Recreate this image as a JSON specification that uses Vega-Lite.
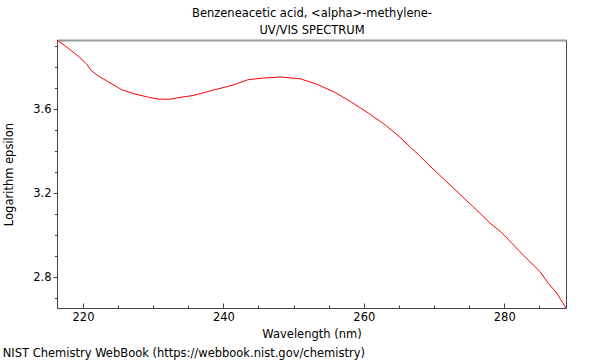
{
  "$schema": "https://vega.github.io/schema/vega-lite/v6.json",
  "width": 509,
  "height": 268,
  "autosize": {"type": "none"},
  "padding": {"left": 57, "top": 40, "right": 34, "bottom": 52},
  "background": "white",
  "title": {
    "text": "NIST Chemistry WebBook (https://webbook.nist.gov/chemistry)",
    "orient": "bottom",
    "anchor": "start",
    "frame": "bounds",
    "font": "DejaVu Sans",
    "fontSize": 11.5,
    "fontWeight": "normal",
    "color": "black",
    "offset": 8,
    "dx": -1
  },
  "config": {
    "font": "DejaVu Sans",
    "view": {"stroke": "#444", "strokeWidth": 1},
    "axis": {
      "domainColor": "#444",
      "tickColor": "#444",
      "labelColor": "black",
      "titleColor": "black",
      "labelFont": "DejaVu Sans",
      "titleFont": "DejaVu Sans",
      "labelFontSize": 11.5,
      "titleFontSize": 11.5,
      "titleFontWeight": "normal",
      "grid": false,
      "labelOverlap": false,
      "labelFlush": false
    }
  },
  "data": {
    "values": [
      {"wavelength": 216.3, "logeps": 3.929},
      {"wavelength": 217.9, "logeps": 3.89},
      {"wavelength": 219.3, "logeps": 3.853},
      {"wavelength": 220.5, "logeps": 3.815},
      {"wavelength": 221.2, "logeps": 3.783},
      {"wavelength": 222.1, "logeps": 3.76},
      {"wavelength": 223.6, "logeps": 3.73},
      {"wavelength": 225.5, "logeps": 3.693},
      {"wavelength": 227.4, "logeps": 3.672},
      {"wavelength": 229.3, "logeps": 3.657},
      {"wavelength": 230.7, "logeps": 3.648},
      {"wavelength": 232.3, "logeps": 3.647},
      {"wavelength": 234.0, "logeps": 3.657},
      {"wavelength": 235.7, "logeps": 3.665},
      {"wavelength": 238.5, "logeps": 3.69},
      {"wavelength": 241.4, "logeps": 3.715},
      {"wavelength": 243.5, "logeps": 3.74},
      {"wavelength": 245.7, "logeps": 3.748},
      {"wavelength": 248.1, "logeps": 3.753},
      {"wavelength": 250.9, "logeps": 3.745},
      {"wavelength": 253.3, "logeps": 3.719},
      {"wavelength": 255.2, "logeps": 3.69},
      {"wavelength": 256.0, "logeps": 3.678},
      {"wavelength": 258.3, "logeps": 3.632},
      {"wavelength": 260.7, "logeps": 3.58},
      {"wavelength": 263.1, "logeps": 3.524},
      {"wavelength": 265.0, "logeps": 3.471},
      {"wavelength": 266.6, "logeps": 3.42},
      {"wavelength": 267.8, "logeps": 3.383},
      {"wavelength": 269.0, "logeps": 3.343},
      {"wavelength": 271.4, "logeps": 3.267},
      {"wavelength": 273.7, "logeps": 3.195},
      {"wavelength": 276.1, "logeps": 3.119},
      {"wavelength": 278.0, "logeps": 3.057},
      {"wavelength": 279.4, "logeps": 3.02},
      {"wavelength": 280.4, "logeps": 2.986},
      {"wavelength": 282.7, "logeps": 2.906},
      {"wavelength": 285.1, "logeps": 2.827},
      {"wavelength": 286.3, "logeps": 2.771},
      {"wavelength": 287.5, "logeps": 2.724},
      {"wavelength": 288.8, "logeps": 2.654}
    ]
  },
  "layer": [
    {
      "mark": {"type": "line", "color": "#ff0000", "strokeWidth": 1, "clip": true},
      "encoding": {
        "x": {
          "field": "wavelength",
          "type": "quantitative",
          "scale": {"domain": [216.3, 288.8], "nice": false, "zero": false},
          "axis": {
            "orient": "bottom",
            "title": "Wavelength (nm)",
            "values": [220, 225, 230, 235, 240, 245, 250, 255, 260, 265, 270, 275, 280, 285],
            "labelExpr": "datum.value % 20 == 0 ? datum.label : ''",
            "tickSize": {"condition": {"test": "datum.value % 20 == 0", "value": -5}, "value": -3},
            "labelPadding": 8,
            "titlePadding": 4
          }
        },
        "y": {
          "field": "logeps",
          "type": "quantitative",
          "scale": {"domain": [2.654, 3.929], "nice": false, "zero": false},
          "axis": {
            "orient": "left",
            "title": "Logarithm epsilon",
            "values": [2.7, 2.8, 2.9, 3.0, 3.1, 3.2, 3.3, 3.4, 3.5, 3.6, 3.7, 3.8, 3.9],
            "labelExpr": "round(datum.value * 10) % 4 == 0 ? format(datum.value, '.1f') : ''",
            "tickSize": {"condition": {"test": "round(datum.value * 10) % 4 == 0", "value": 4}, "value": 2.5},
            "labelPadding": 2,
            "titlePadding": 18
          }
        }
      }
    },
    {
      "mark": {"type": "line", "strokeOpacity": 0},
      "encoding": {
        "x": {
          "field": "wavelength",
          "type": "quantitative",
          "axis": {
            "orient": "top",
            "labels": false,
            "ticks": false,
            "domainColor": "#999999",
            "domainWidth": 2,
            "title": ["Benzeneacetic acid, <alpha>-methylene-", "UV/VIS SPECTRUM"],
            "titleLineHeight": 17,
            "titlePadding": 5
          }
        }
      }
    }
  ]
}
